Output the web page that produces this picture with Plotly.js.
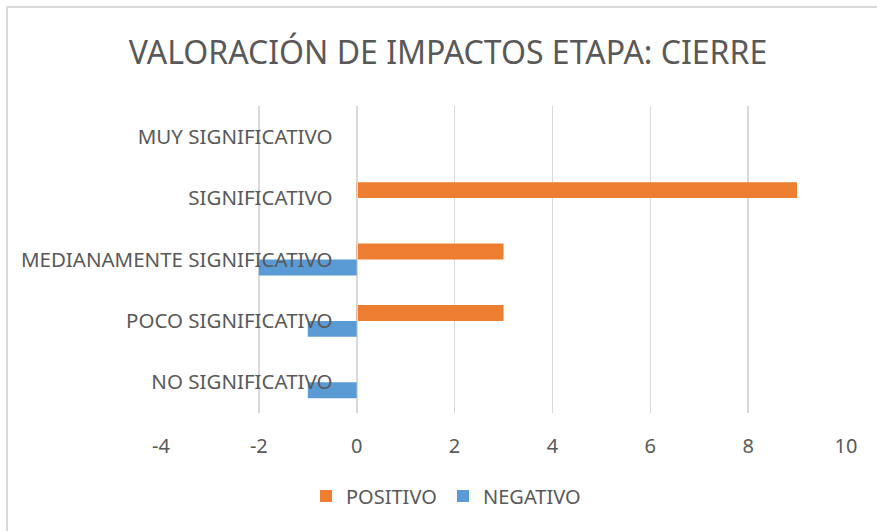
<!DOCTYPE html>
<html>
<head>
<meta charset="utf-8">
<script src="https://cdn.plot.ly/plotly-3.0.1.min.js"></script>
<style>
html,body{margin:0;padding:0;background:#fff;}
#wrap{position:relative;width:877px;height:531px;overflow:hidden;}
#chart{width:877px;height:531px;}
#frame{position:absolute;left:6px;top:6px;width:900px;height:560px;border:2px solid #d9d9d9;pointer-events:none;box-sizing:border-box;}
</style>
</head>
<body>
<div id="wrap"><div id="chart"></div><div id="frame"></div></div>
<script>
var categories = ["NO SIGNIFICATIVO", "POCO SIGNIFICATIVO", "MEDIANAMENTE SIGNIFICATIVO", "SIGNIFICATIVO", "MUY SIGNIFICATIVO"];
var positivo = [0, 3, 3, 9, 0];
var negativo = [-1, -1, -2, 0, 0];
var xTicks = [-4, -2, 0, 2, 4, 6, 8, 10];

var FONT = "Noto Sans, sans-serif";
var GREY = "#595959";

var traces = [
  {type: "bar", orientation: "h", name: "NEGATIVO", y: categories, x: negativo,
   marker: {color: "#5B9BD5"}, hoverinfo: "x+y"},
  {type: "bar", orientation: "h", name: "POSITIVO", y: categories, x: positivo,
   marker: {color: "#ED7D31"}, hoverinfo: "x+y"}
];

var layout = {
  width: 877, height: 531,
  margin: {l: 161, r: 31, t: 106, b: 118},
  paper_bgcolor: "#fff", plot_bgcolor: "#fff",
  barmode: "group", bargap: 0.48, bargroupgap: 0,
  title: {text: "VALORACIÓN DE IMPACTOS ETAPA: CIERRE", font: {family: FONT, size: 32, color: GREY},
          x: 448 / 877, xref: "container", xanchor: "center", y: 0.90, yanchor: "middle"},
  xaxis: {range: [-4, 10], tickvals: xTicks, ticktext: xTicks.map(String),
          showgrid: true, gridcolor: "#d9d9d9", gridwidth: 1.5, zeroline: false,
          showline: false, ticks: "", ticklabelstandoff: 19,
          tickfont: {family: FONT, size: 20, color: GREY}, fixedrange: true},
  yaxis: {type: "category", categoryorder: "array", categoryarray: categories,
          anchor: "free", position: 4 / 14, showgrid: false, zeroline: false,
          showline: true, linecolor: "#d9d9d9", linewidth: 1.5, ticks: "", ticklabelstandoff: 20,
          tickfont: {family: FONT, size: 20.5, color: GREY}, fixedrange: true},
  showlegend: true,
  legend: {orientation: "h", traceorder: "reversed", x: (306 - 161) / 685, xanchor: "left",
           y: -0.27, yanchor: "middle", font: {family: FONT, size: 20, color: GREY},
           entrywidth: 92, entrywidthmode: "pixels"},
};

Plotly.newPlot("chart", traces, layout, {displayModeBar: false, staticPlot: true});
</script>
</body>
</html>
